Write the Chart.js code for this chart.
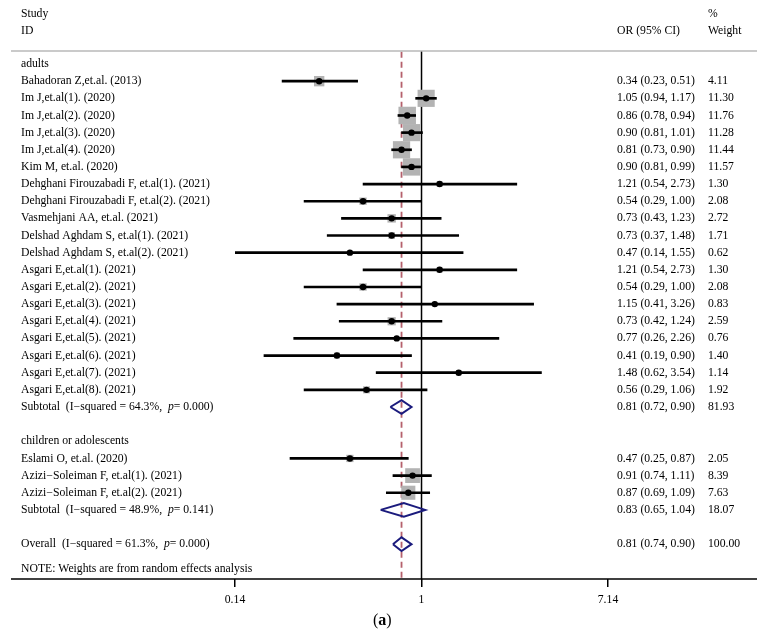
<!DOCTYPE html>
<html>
<head>
<meta charset="utf-8">
<script src="https://cdn.jsdelivr.net/npm/chart.js@4/dist/chart.umd.min.js"></script>
<style>
  body { margin: 0; background: #fff; }
  canvas { display: block; }
</style>
</head>
<body>
<canvas id="forest" width="772" height="633"></canvas>
<script>
// dados do forest plot
const groupNames = ['adults', 'children or adolescents'];
const studyNames = [
    'Bahadoran Z,et.al. (2013)',
    'Im J,et.al(1). (2020)',
    'Im J,et.al(2). (2020)',
    'Im J,et.al(3). (2020)',
    'Im J,et.al(4). (2020)',
    'Kim M, et.al. (2020)',
    'Dehghani Firouzabadi F, et.al(1). (2021)',
    'Dehghani Firouzabadi F, et.al(2). (2021)',
    'Vasmehjani AA, et.al. (2021)',
    'Delshad Aghdam S, et.al(1). (2021)',
    'Delshad Aghdam S, et.al(2). (2021)',
    'Asgari E,et.al(1). (2021)',
    'Asgari E,et.al(2). (2021)',
    'Asgari E,et.al(3). (2021)',
    'Asgari E,et.al(4). (2021)',
    'Asgari E,et.al(5). (2021)',
    'Asgari E,et.al(6). (2021)',
    'Asgari E,et.al(7). (2021)',
    'Asgari E,et.al(8). (2021)',
    'Eslami O, et.al. (2020)',
    'Azizi\u2212Soleiman F, et.al(1). (2021)',
    'Azizi\u2212Soleiman F, et.al(2). (2021)'
];
const studyGroup = [0, 0, 0, 0, 0, 0, 0, 0, 0, 0, 0, 0, 0, 0, 0, 0, 0, 0, 0, 1, 1, 1];
const studyOR   = [0.34, 1.05, 0.86, 0.90, 0.81, 0.90, 1.21, 0.54, 0.73, 0.73, 0.47, 1.21, 0.54, 1.15, 0.73, 0.77, 0.41, 1.48, 0.56, 0.47, 0.91, 0.87];
const studyLow  = [0.23, 0.94, 0.78, 0.81, 0.73, 0.81, 0.54, 0.29, 0.43, 0.37, 0.14, 0.54, 0.29, 0.41, 0.42, 0.26, 0.19, 0.62, 0.29, 0.25, 0.74, 0.69];
const studyHigh = [0.51, 1.17, 0.94, 1.01, 0.90, 0.99, 2.73, 1.00, 1.23, 1.48, 1.55, 2.73, 1.00, 3.26, 1.24, 2.26, 0.90, 3.54, 1.06, 0.87, 1.11, 1.09];
const studyWeight = [4.11, 11.30, 11.76, 11.28, 11.44, 11.57, 1.30, 2.08, 2.72, 1.71, 0.62, 1.30, 2.08, 0.83, 2.59, 0.76, 1.40, 1.14, 1.92, 2.05, 8.39, 7.63];

const summaryNames  = ['Subtotal', 'Subtotal', 'Overall'];
const summaryI2     = ['64.3%', '48.9%', '61.3%'];
const summaryP      = ['0.000', '0.141', '0.000'];
const summaryOR     = [0.81, 0.83, 0.81];
const summaryLow    = [0.72, 0.65, 0.74];
const summaryHigh   = [0.90, 1.04, 0.90];
const summaryWeight = [81.93, 18.07, 100.00];

const tickValues = [0.14, 1, 7.14];
const tickLabels = ['0.14', '1', '7.14'];
const noteText = 'NOTE: Weights are from random effects analysis';

// montar as linhas (índice de linha no eixo y)
const studyRow = [];
const groupRow = [];
const summaryRow = [];
let r = 0;
groupNames.forEach(function (g, gi) {
    groupRow.push(r); r++;
    studyNames.forEach(function (s, i) {
        if (studyGroup[i] === gi) { studyRow[i] = r; r++; }
    });
    summaryRow.push(r); r++;
    r++; // linha em branco
});
summaryRow.push(r);
const noteRow = r + 1.45;

const Y_MIN = -0.76, Y_MAX = 30.03;
const FONT = '"Liberation Serif", "Times New Roman", serif';
const FS = 11.7;
const NAVY = '#1b1b7d';

const ciData = studyNames.map((s, i) => ({ y: studyRow[i], x: [studyLow[i], studyHigh[i]] }));
const pointData = studyNames.map((s, i) => ({ x: studyOR[i], y: studyRow[i] }));

function diamond(k) {
    const h = 0.4;
    const y = summaryRow[k];
    return [
        { x: summaryLow[k], y: y },
        { x: summaryOR[k], y: y - h },
        { x: summaryHigh[k], y: y },
        { x: summaryOR[k], y: y + h },
        { x: summaryLow[k], y: y }
    ];
}

const datasets = [
    {
        type: 'line', data: [{ x: 1, y: Y_MIN }, { x: 1, y: Y_MAX }],
        borderColor: '#000', borderWidth: 1.5, pointRadius: 0, order: 20
    },
    {
        type: 'line', data: [{ x: summaryOR[2], y: Y_MIN + 0.05 }, { x: summaryOR[2], y: Y_MAX }],
        borderColor: '#b5606c', borderWidth: 1.8, borderDash: [6, 4], pointRadius: 0, order: 19
    },
    {
        type: 'scatter', data: pointData,
        pointStyle: 'rect', backgroundColor: '#b3b3b3', borderWidth: 0,
        pointRadius: ctx => 5.1 * Math.sqrt(studyWeight[ctx.dataIndex]) / Math.SQRT2,
        order: 10
    },
    {
        type: 'bar', data: ciData, indexAxis: 'y', barThickness: 2,
        backgroundColor: '#000', borderWidth: 0, order: 5
    },
    {
        type: 'scatter', data: pointData,
        pointStyle: 'circle', backgroundColor: '#000', borderWidth: 0, pointRadius: 3.2, order: 1
    }
];
summaryNames.forEach(function (s, k) {
    datasets.push({
        type: 'scatter', data: diamond(k), showLine: true,
        borderColor: NAVY, borderWidth: 2, pointRadius: 0, fill: false, order: 2
    });
});

// plugin para textos e linhas do cabeçalho
const textPlugin = {
    id: 'forestText',
    afterDraw(chart) {
        const c = chart.ctx;
        const ys = chart.scales.y;
        const area = chart.chartArea;
        c.save();
        c.fillStyle = '#000';
        c.textBaseline = 'middle';
        c.font = FS + 'px ' + FONT;

        const xName = 21, xOR = 617, xW = 708;
        c.fillText('Study', xName, 14);
        c.fillText('ID', xName, 31);
        c.fillText('OR (95% CI)', xOR, 31);
        c.fillText('%', xW, 14);
        c.fillText('Weight', xW, 31);

        // linha do cabeçalho
        c.strokeStyle = '#b9b9b9';
        c.lineWidth = 1.5;
        c.beginPath();
        c.moveTo(11, 51);
        c.lineTo(757, 51);
        c.stroke();

        groupNames.forEach(function (g, gi) {
            c.fillText(g, xName, ys.getPixelForValue(groupRow[gi]));
        });
        studyNames.forEach(function (s, i) {
            const y = ys.getPixelForValue(studyRow[i]);
            c.fillText(s, xName, y);
            c.fillText(studyOR[i].toFixed(2) + ' (' + studyLow[i].toFixed(2) + ', ' + studyHigh[i].toFixed(2) + ')', xOR, y);
            c.fillText(studyWeight[i].toFixed(2), xW, y);
        });
        summaryNames.forEach(function (s, k) {
            const y = ys.getPixelForValue(summaryRow[k]);
            let x = xName;
            const part1 = s + '  (I\u2212squared = ' + summaryI2[k] + ',  ';
            c.font = FS + 'px ' + FONT;
            c.fillText(part1, x, y);
            x += c.measureText(part1).width;
            c.font = 'italic ' + FS + 'px ' + FONT;
            c.fillText('p', x, y);
            x += c.measureText('p').width;
            c.font = FS + 'px ' + FONT;
            c.fillText('= ' + summaryP[k] + ')', x, y);
            c.fillText(summaryOR[k].toFixed(2) + ' (' + summaryLow[k].toFixed(2) + ', ' + summaryHigh[k].toFixed(2) + ')', xOR, y);
            c.fillText(summaryWeight[k].toFixed(2), xW, y);
        });
        c.fillText(noteText, xName, ys.getPixelForValue(noteRow));

        // linha do eixo x
        c.strokeStyle = '#000';
        c.lineWidth = 1.5;
        c.beginPath();
        c.moveTo(11, area.bottom);
        c.lineTo(757, area.bottom);
        c.stroke();

        // rótulo (a)
        c.font = '16px ' + FONT;
        c.textAlign = 'left';
        let xa = 373;
        c.fillText('(', xa, 621);
        xa += c.measureText('(').width;
        c.font = 'bold 16px ' + FONT;
        c.fillText('a', xa, 621);
        xa += c.measureText('a').width;
        c.font = '16px ' + FONT;
        c.fillText(')', xa, 621);
        c.restore();
    }
};

new Chart(document.getElementById('forest').getContext('2d'), {
    data: { datasets: datasets },
    options: {
        responsive: false,
        animation: false,
        layout: { padding: { left: 235, right: 164, top: 51, bottom: 0 } },
        plugins: { legend: { display: false }, tooltip: { enabled: false } },
        scales: {
            x: {
                type: 'logarithmic',
                position: 'bottom',
                min: tickValues[0],
                max: tickValues[tickValues.length - 1],
                offset: false,
                border: { display: false },
                grid: { drawOnChartArea: false, drawTicks: true, tickLength: 8, color: '#000', lineWidth: 1.5, offset: false },
                afterBuildTicks: function (scale) {
                    scale.ticks = tickValues.map(v => ({ value: v }));
                },
                afterFit: function (scale) { scale.height = 54; },
                ticks: {
                    autoSkip: false, maxRotation: 0, color: '#000', padding: 6,
                    font: { family: FONT, size: FS },
                    callback: (v, i) => tickLabels[i]
                }
            },
            y: {
                type: 'linear',
                reverse: true,
                min: Y_MIN,
                max: Y_MAX,
                offset: false,
                grid: { offset: false },
                display: false
            }
        }
    },
    plugins: [textPlugin]
});
</script>
</body>
</html>
